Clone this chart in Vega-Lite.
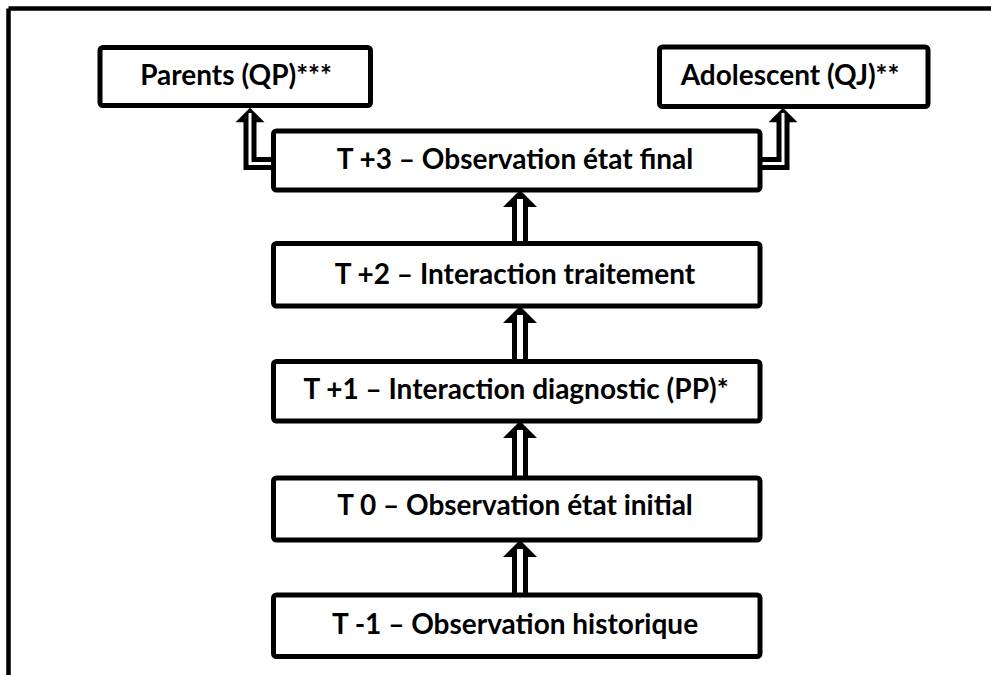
{
  "$schema": "https://vega.github.io/schema/vega-lite/v6.json",
  "width": 991,
  "height": 675,
  "autosize": {"type": "none"},
  "padding": 0,
  "background": "white",
  "config": {"view": {"stroke": null}},
  "datasets": {
    "frame": [
      {"x": 8.5, "y": 8.5, "x2": 995, "y2": 8.5},
      {"x": 8.5, "y": 8.5, "x2": 8.5, "y2": 680}
    ],
    "boxes": [
      {"label": "Parents (QP)***", "x0": 100, "x1": 370.5, "y0": 47.5, "y1": 105.5, "tx": 236, "ty": 77},
      {"label": "Adolescent (QJ)**", "x0": 659.5, "x1": 928, "y0": 47, "y1": 106.5, "tx": 790, "ty": 77},
      {"label": "T +3 – Observation état final", "x0": 273.5, "x1": 760, "y0": 131, "y1": 190, "tx": 515, "ty": 161},
      {"label": "T +2 – Interaction traitement", "x0": 273.5, "x1": 760, "y0": 243.5, "y1": 306, "tx": 515, "ty": 276},
      {"label": "T +1 – Interaction diagnostic (PP)*", "x0": 273.5, "x1": 760, "y0": 361.5, "y1": 421, "tx": 516, "ty": 391},
      {"label": "T 0 – Observation état initial", "x0": 273.5, "x1": 760, "y0": 478, "y1": 540, "tx": 515, "ty": 507},
      {"label": "T -1 – Observation historique", "x0": 273.5, "x1": 760, "y0": 595, "y1": 656.5, "tx": 515, "ty": 626}
    ],
    "paths": [
      {"id": "a1", "kind": "main", "part": "outer", "i": 0, "x": 520, "y": 597},
      {"id": "a1", "kind": "main", "part": "outer", "i": 1, "x": 520, "y": 556},
      {"id": "a2", "kind": "main", "part": "outer", "i": 0, "x": 520, "y": 480},
      {"id": "a2", "kind": "main", "part": "outer", "i": 1, "x": 520, "y": 437},
      {"id": "a3", "kind": "main", "part": "outer", "i": 0, "x": 520, "y": 363},
      {"id": "a3", "kind": "main", "part": "outer", "i": 1, "x": 520, "y": 322},
      {"id": "a4", "kind": "main", "part": "outer", "i": 0, "x": 520, "y": 245},
      {"id": "a4", "kind": "main", "part": "outer", "i": 1, "x": 520, "y": 206},
      {"id": "a1", "kind": "main", "part": "inner", "i": 0, "x": 520, "y": 595},
      {"id": "a1", "kind": "main", "part": "inner", "i": 1, "x": 520, "y": 549},
      {"id": "a2", "kind": "main", "part": "inner", "i": 0, "x": 520, "y": 478},
      {"id": "a2", "kind": "main", "part": "inner", "i": 1, "x": 520, "y": 430},
      {"id": "a3", "kind": "main", "part": "inner", "i": 0, "x": 520, "y": 361.5},
      {"id": "a3", "kind": "main", "part": "inner", "i": 1, "x": 520, "y": 315},
      {"id": "a4", "kind": "main", "part": "inner", "i": 0, "x": 520, "y": 243.5},
      {"id": "a4", "kind": "main", "part": "inner", "i": 1, "x": 520, "y": 199},
      {"id": "sl", "kind": "side", "part": "outer", "i": 0, "x": 274, "y": 163.5},
      {"id": "sl", "kind": "side", "part": "outer", "i": 1, "x": 250, "y": 163.5},
      {"id": "sl", "kind": "side", "part": "outer", "i": 2, "x": 250, "y": 121},
      {"id": "sr", "kind": "side", "part": "outer", "i": 0, "x": 759, "y": 163.5},
      {"id": "sr", "kind": "side", "part": "outer", "i": 1, "x": 783, "y": 163.5},
      {"id": "sr", "kind": "side", "part": "outer", "i": 2, "x": 783, "y": 121},
      {"id": "sl", "kind": "side", "part": "inner", "i": 0, "x": 274, "y": 163.5},
      {"id": "sl", "kind": "side", "part": "inner", "i": 1, "x": 250, "y": 163.5},
      {"id": "sl", "kind": "side", "part": "inner", "i": 2, "x": 250, "y": 113},
      {"id": "sr", "kind": "side", "part": "inner", "i": 0, "x": 759, "y": 163.5},
      {"id": "sr", "kind": "side", "part": "inner", "i": 1, "x": 783, "y": 163.5},
      {"id": "sr", "kind": "side", "part": "inner", "i": 2, "x": 783, "y": 113}
    ],
    "heads": [
      {"kind": "main", "x": 520, "y": 548.5},
      {"kind": "main", "x": 520, "y": 429.5},
      {"kind": "main", "x": 520, "y": 314.5},
      {"kind": "main", "x": 520, "y": 198.5},
      {"kind": "side", "x": 250, "y": 115},
      {"kind": "side", "x": 783, "y": 115}
    ]
  },
  "layer": [
    {
      "data": {"name": "frame"},
      "mark": {"type": "rule", "color": "black", "strokeWidth": 4.5, "strokeCap": "butt"},
      "encoding": {
        "x": {"field": "x", "type": "quantitative", "scale": {"domain": [0, 991], "range": [0, 991], "nice": false, "zero": false}, "axis": null},
        "y": {"field": "y", "type": "quantitative", "scale": {"domain": [0, 675], "range": [0, 675], "nice": false, "zero": false}, "axis": null},
        "x2": {"field": "x2"},
        "y2": {"field": "y2"}
      }
    },
    {
      "data": {"name": "paths"},
      "transform": [{"filter": "datum.kind == 'main' && datum.part == 'outer'"}],
      "mark": {"type": "line", "color": "black", "strokeWidth": 16, "strokeCap": "butt", "strokeJoin": "miter"},
      "encoding": {
        "x": {"field": "x", "type": "quantitative", "axis": null},
        "y": {"field": "y", "type": "quantitative", "axis": null},
        "detail": {"field": "id"},
        "order": {"field": "i"}
      }
    },
    {
      "data": {"name": "paths"},
      "transform": [{"filter": "datum.kind == 'side' && datum.part == 'outer'"}],
      "mark": {"type": "line", "color": "black", "strokeWidth": 13, "strokeCap": "butt", "strokeJoin": "miter"},
      "encoding": {
        "x": {"field": "x", "type": "quantitative", "axis": null},
        "y": {"field": "y", "type": "quantitative", "axis": null},
        "detail": {"field": "id"},
        "order": {"field": "i"}
      }
    },
    {
      "data": {"name": "heads"},
      "transform": [{"filter": "datum.kind == 'main'"}],
      "mark": {"type": "point", "shape": "M-1,0.5L1,0.5L0,-0.5Z", "size": 1156, "filled": true, "color": "black", "opacity": 1, "strokeWidth": 0},
      "encoding": {
        "x": {"field": "x", "type": "quantitative", "axis": null},
        "y": {"field": "y", "type": "quantitative", "axis": null}
      }
    },
    {
      "data": {"name": "heads"},
      "transform": [{"filter": "datum.kind == 'side'"}],
      "mark": {"type": "point", "shape": "M-1,0.5L1,0.5L0,-0.5Z", "size": 841, "filled": true, "color": "black", "opacity": 1, "strokeWidth": 0},
      "encoding": {
        "x": {"field": "x", "type": "quantitative", "axis": null},
        "y": {"field": "y", "type": "quantitative", "axis": null}
      }
    },
    {
      "data": {"name": "paths"},
      "transform": [{"filter": "datum.kind == 'main' && datum.part == 'inner'"}],
      "mark": {"type": "line", "color": "white", "strokeWidth": 6, "strokeCap": "butt", "strokeJoin": "miter"},
      "encoding": {
        "x": {"field": "x", "type": "quantitative", "axis": null},
        "y": {"field": "y", "type": "quantitative", "axis": null},
        "detail": {"field": "id"},
        "order": {"field": "i"}
      }
    },
    {
      "data": {"name": "paths"},
      "transform": [{"filter": "datum.kind == 'side' && datum.part == 'inner'"}],
      "mark": {"type": "line", "color": "white", "strokeWidth": 3, "strokeCap": "butt", "strokeJoin": "miter"},
      "encoding": {
        "x": {"field": "x", "type": "quantitative", "axis": null},
        "y": {"field": "y", "type": "quantitative", "axis": null},
        "detail": {"field": "id"},
        "order": {"field": "i"}
      }
    },
    {
      "data": {"name": "boxes"},
      "mark": {"type": "rect", "fill": "white", "stroke": "black", "strokeWidth": 5, "cornerRadius": 3},
      "encoding": {
        "x": {"field": "x0", "type": "quantitative", "axis": null},
        "x2": {"field": "x1"},
        "y": {"field": "y0", "type": "quantitative", "axis": null},
        "y2": {"field": "y1"}
      }
    },
    {
      "data": {"name": "boxes"},
      "mark": {"type": "text", "font": "Lato", "fontWeight": "bold", "fontSize": 28, "color": "black", "align": "center", "baseline": "middle"},
      "encoding": {
        "x": {"field": "tx", "type": "quantitative", "axis": null},
        "y": {"field": "ty", "type": "quantitative", "axis": null},
        "text": {"field": "label"}
      }
    }
  ]
}
